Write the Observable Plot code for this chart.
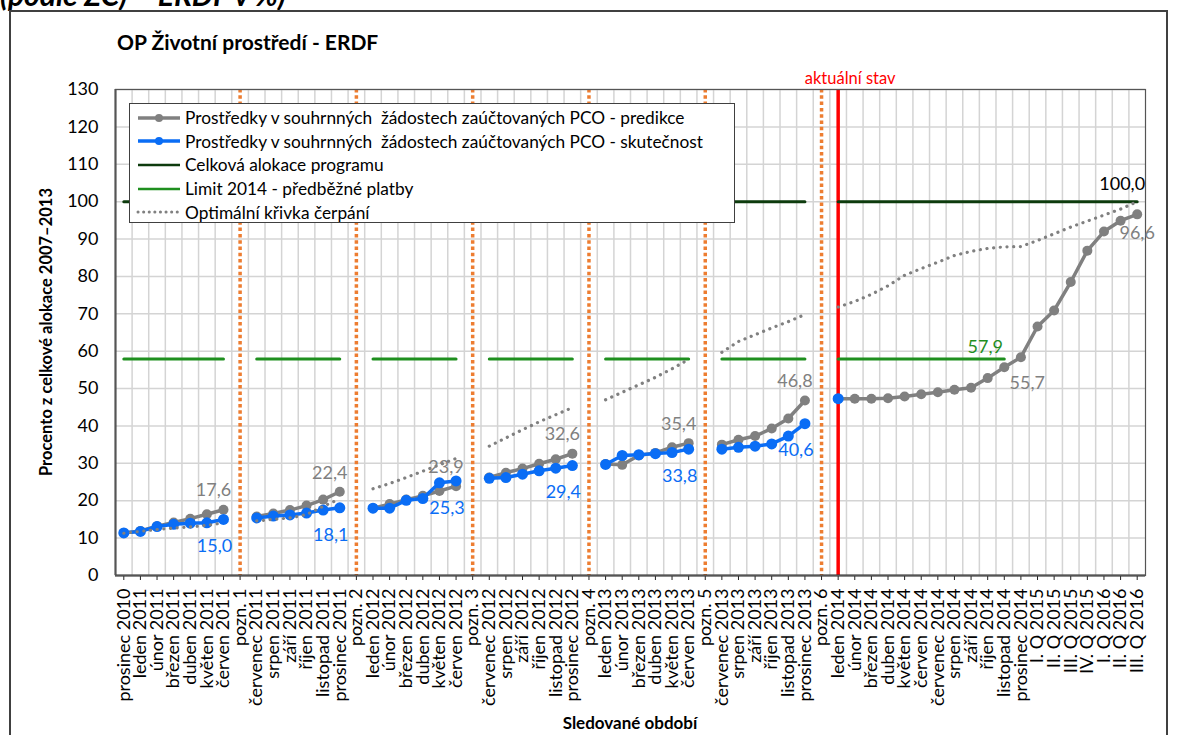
<!DOCTYPE html>
<html><head><meta charset="utf-8">
<script src="https://cdn.jsdelivr.net/npm/d3@7"></script>
<script src="https://cdn.jsdelivr.net/npm/@observablehq/plot@0.6"></script>
<style>
html,body{margin:0;padding:0;background:#fff;overflow:hidden;}
body{width:1179px;height:735px;position:relative;font-family:Lato,"Open Sans",sans-serif;}
#wrap{position:absolute;left:0;top:0;width:1179px;height:735px;}
#chart{position:absolute;left:0;top:0;}
.abs{position:absolute;white-space:nowrap;}
#border{left:9px;top:10px;width:1159px;height:780px;border:2px solid #404040;box-sizing:border-box;}
#cut{left:0px;top:-24px;font-weight:bold;font-style:italic;font-size:30px;}
#title{left:117px;top:29px;font-weight:bold;font-size:21px;}
#ytitle{left:46px;top:332px;font-weight:bold;font-size:16.5px;transform:translate(-50%,-50%) rotate(-90deg);}
#xtitle{left:630px;top:722px;font-weight:bold;font-size:17px;transform:translate(-50%,-50%);}
#legend{left:129px;top:103px;width:606px;height:120px;border:1.5px solid #404040;background:#fff;box-sizing:border-box;padding:2px 0 0 6px;}
.row{height:23.6px;display:flex;align-items:center;font-size:17.3px;}
.row svg{margin-right:3px;}
</style></head>
<body>
<div id="wrap">
  <div id="cut" class="abs">(podle ZC) – ERDF v %)</div>
  <div id="border" class="abs"></div>
  <div id="title" class="abs">OP Životní prostředí - ERDF</div>
  <div id="chart"></div>
  <div id="ytitle" class="abs">Procento z celkové alokace 2007–2013</div>
  <div id="xtitle" class="abs">Sledované období</div>
  <div id="legend" class="abs"></div>
</div>
<script>
// ---------- data ----------
const categories = [
  "prosinec 2010","leden 2011","únor 2011","březen 2011","duben 2011","květen 2011","červen 2011","pozn. 1",
  "červenec 2011","srpen 2011","září 2011","říjen 2011","listopad 2011","prosinec 2011","pozn. 2",
  "leden 2012","únor 2012","březen 2012","duben 2012","květen 2012","červen 2012","pozn. 3",
  "červenec 2012","srpen 2012","září 2012","říjen 2012","listopad 2012","prosinec 2012","pozn. 4",
  "leden 2013","únor 2013","březen 2013","duben 2013","květen 2013","červen 2013","pozn. 5",
  "červenec 2013","srpen 2013","září 2013","říjen 2013","listopad 2013","prosinec 2013","pozn. 6",
  "leden 2014","únor 2014","březen 2014","duben 2014","květen 2014","červen 2014","červenec 2014",
  "srpen 2014","září 2014","říjen 2014","listopad 2014","prosinec 2014",
  "I. Q 2015","II. Q 2015","III. Q 2015","IV. Q 2015","I. Q 2016","II. Q 2016","III. Q 2016"
];
const predikce = [
  11.4, 11.9, 13.2, 14.2, 15.2, 16.4, 17.6, null,
  15.8, 16.6, 17.5, 18.7, 20.3, 22.4, null,
  18.0, 19.1, 20.3, 21.3, 22.6, 23.9, null,
  26.2, 27.5, 28.6, 29.9, 31.1, 32.6, null,
  29.8, 29.6, 32.1, 32.8, 34.3, 35.4, null,
  35.0, 36.3, 37.3, 39.3, 42.0, 46.8, null,
  47.3, 47.3, 47.3, 47.4, 47.9, 48.5, 49.0, 49.7, 50.2, 52.8, 55.7, 58.4,
  66.6, 70.9, 78.5, 86.9, 92.0, 94.9, 96.6
];
const skutecnost = [
  11.4, 11.8, 13.1, 13.7, 14.0, 14.1, 15.0, null,
  15.4, 15.9, 16.2, 16.7, 17.5, 18.1, null,
  18.0, 18.0, 20.1, 20.6, 24.8, 25.3, null,
  26.0, 26.2, 27.1, 28.0, 28.7, 29.4, null,
  29.7, 32.1, 32.3, 32.6, 32.9, 33.8, null,
  33.8, 34.3, 34.6, 35.2, 37.3, 40.6, null,
  47.3, null, null, null, null, null, null, null, null, null, null, null,
  null, null, null, null, null, null, null
];
const alokace = [
  100, 100, 100, 100, 100, 100, 100, null,
  100, 100, 100, 100, 100, 100, null,
  100, 100, 100, 100, 100, 100, null,
  100, 100, 100, 100, 100, 100, null,
  100, 100, 100, 100, 100, 100, null,
  100, 100, 100, 100, 100, 100, null,
  100, 100, 100, 100, 100, 100, 100, 100, 100, 100, 100, 100,
  100, 100, 100, 100, 100, 100, 100
];
const limit2014 = [
  57.9, 57.9, 57.9, 57.9, 57.9, 57.9, 57.9, null,
  57.9, 57.9, 57.9, 57.9, 57.9, 57.9, null,
  57.9, 57.9, 57.9, 57.9, 57.9, 57.9, null,
  57.9, 57.9, 57.9, 57.9, 57.9, 57.9, null,
  57.9, 57.9, 57.9, 57.9, 57.9, 57.9, null,
  57.9, 57.9, 57.9, 57.9, 57.9, 57.9, null,
  57.9, 57.9, 57.9, 57.9, 57.9, 57.9, 57.9, 57.9, 57.9, 57.9, 57.9, null,
  null, null, null, null, null, null, null
];
const optimalni = [
  11.3, 11.8, 12.3, 12.7, 13.0, 13.4, 14.1, null,
  14.6, 15.0, 15.4, 16.3, 18.5, 20.5, null,
  23.2, 24.6, 26.2, 27.9, 29.6, 31.3, null,
  34.6, 36.8, 39.0, 41.1, 43.0, 44.9, null,
  47.0, 49.0, 51.0, 53.0, 55.3, 57.8, null,
  59.7, 62.6, 64.4, 66.2, 67.9, 69.8, null,
  71.8, 73.3, 75.2, 77.5, 80.3, 82.1, 83.8, 85.6, 86.7, 87.5, 87.9, 88.0,
  89.6, 91.4, 93.2, 94.8, 96.4, 98.0, 100.0
];
const yTicks = [0, 10, 20, 30, 40, 50, 60, 70, 80, 90, 100, 110, 120, 130];
const currentPeriod = "leden 2014";
// labelled points
const predikceAbove = ["červen 2011","prosinec 2011","červen 2012","prosinec 2012","červen 2013","prosinec 2013"];
const skutecnostBelow = ["červen 2011","prosinec 2011","červen 2012","prosinec 2012","červen 2013","prosinec 2013"];
const predikceBelowRight = ["listopad 2014"];
const predikceBelow = ["III. Q 2016"];
const limitLabel = ["listopad 2014"];
const alokaceLabel = ["III. Q 2016"];

const seriesNames = [
  "Prostředky v souhrnných  žádostech zaúčtovaných PCO - predikce",
  "Prostředky v souhrnných  žádostech zaúčtovaných PCO - skutečnost",
  "Celková alokace programu",
  "Limit 2014 - předběžné platby",
  "Optimální křivka čerpání"
];

// ---------- styles ----------
const C = {gray:"#808080", blue:"#0a6df5", dark:"#0d3b0d", green:"#1f8f1f", orange:"#ED7D31", red:"#ff0000", grid:"#d4d4d4"};
const n = categories.length;
const idx = d3.range(n);
const pos = c => categories.indexOf(c);
const pozn = idx.filter(i => categories[i].startsWith("pozn"));
const fmt = v => v.toFixed(1).replace(".", ",");
const valid = arr => idx.filter(i => arr[i] != null);

const plot = Plot.plot({
  width: 1179, height: 735,
  marginLeft: 115, marginRight: 34, marginTop: 89, marginBottom: 160,
  style: {fontFamily: "Lato, 'Open Sans', sans-serif", fontSize: "18px", color: "#000", background: "transparent", overflow: "visible"},
  x: {domain: [-0.5, n - 0.5]},
  y: {domain: [0, 130]},
  marks: [
    Plot.ruleY(yTicks, {stroke: C.grid, strokeWidth: 1.5}),
    Plot.ruleX(idx.slice(1), {x: i => i - 0.5, stroke: C.grid, strokeWidth: 1.5}),
    Plot.axisY({ticks: yTicks, tickSize: 0, tickPadding: 17, fontSize: 18, label: null}),
    Plot.axisX({ticks: idx, tickFormat: i => categories[i], tickRotate: -90, tickSize: 5, tickPadding: 8, fontSize: 18, label: null, stroke: "#222"}),
    Plot.ruleX(pozn, {stroke: C.orange, strokeWidth: 3.5, strokeDasharray: "3.5,2.8"}),
    Plot.ruleX([pos(currentPeriod)], {stroke: C.red, strokeWidth: 3.5}),
    Plot.text([pos(currentPeriod)], {x: d => d, frameAnchor: "top", dy: -17, dx: 12, text: () => "aktuální stav", fill: C.red, fontSize: 16.5}),
    Plot.line(idx, {x: i => i, y: i => predikce[i], stroke: C.gray, strokeWidth: 3.5}),
    Plot.dot(valid(predikce), {x: i => i, y: i => predikce[i], r: 5, fill: C.gray}),
    Plot.line(idx, {x: i => i, y: i => skutecnost[i], stroke: C.blue, strokeWidth: 3.5}),
    Plot.dot(valid(skutecnost), {x: i => i, y: i => skutecnost[i], r: 5.5, fill: C.blue}),
    Plot.line(idx, {x: i => i, y: i => alokace[i], stroke: C.dark, strokeWidth: 3}),
    Plot.line(idx, {x: i => i, y: i => limit2014[i], stroke: C.green, strokeWidth: 3}),
    Plot.line(idx, {x: i => i, y: i => optimalni[i], stroke: C.gray, strokeWidth: 3.2, strokeDasharray: "0.1,6.6", strokeLinecap: "round"}),
    Plot.ruleY([0], {stroke: "#333", strokeWidth: 2}),
    Plot.ruleX([-0.5], {stroke: "#444", strokeWidth: 2}),
    Plot.frame({stroke: "#555", strokeWidth: 1.2}),
    // labels
    Plot.text(predikceAbove.map(pos), {x: d => d, y: d => predikce[d], text: d => fmt(predikce[d]), fill: C.gray, dx: -10, dy: -19, fontSize: 18}),
    Plot.text(skutecnostBelow.map(pos), {x: d => d, y: d => skutecnost[d], text: d => fmt(skutecnost[d]), fill: C.blue, dx: -9, dy: 27, fontSize: 18}),
    Plot.text(predikceBelowRight.map(pos), {x: d => d, y: d => predikce[d], text: d => fmt(predikce[d]), fill: C.gray, dx: 23, dy: 16, fontSize: 18}),
    Plot.text(predikceBelow.map(pos), {x: d => d, y: d => predikce[d], text: d => fmt(predikce[d]), fill: C.gray, dx: 0, dy: 19, fontSize: 18}),
    Plot.text(limitLabel.map(pos), {x: d => d, y: d => limit2014[d], text: d => fmt(limit2014[d]), fill: C.green, dx: -19, dy: -12, fontSize: 18}),
    Plot.text(alokaceLabel.map(pos), {x: d => d, y: d => alokace[d], text: d => fmt(alokace[d]), fill: "#000", dx: -15, dy: -17, fontSize: 18})
  ]
});
document.getElementById("chart").appendChild(plot);

// ---------- legend ----------
const legendStyles = [
  {stroke: C.gray, dot: true, dash: null, w: 3.5},
  {stroke: C.blue, dot: true, dash: null, w: 3.5},
  {stroke: C.dark, dot: false, dash: null, w: 2.5},
  {stroke: C.green, dot: false, dash: null, w: 2.5},
  {stroke: C.gray, dot: false, dash: "0.1,5.5", w: 3}
];
const leg = document.getElementById("legend");
seriesNames.forEach((name, k) => {
  const s = legendStyles[k];
  const row = document.createElement("div");
  row.className = "row";
  const svg = d3.create("svg").attr("width", 46).attr("height", 14);
  svg.append("line").attr("x1", 2).attr("x2", 44).attr("y1", 7).attr("y2", 7)
    .attr("stroke", s.stroke).attr("stroke-width", s.w)
    .attr("stroke-dasharray", s.dash).attr("stroke-linecap", s.dash ? "round" : "butt");
  if (s.dot) svg.append("circle").attr("cx", 23).attr("cy", 7).attr("r", 4).attr("fill", s.stroke);
  row.appendChild(svg.node());
  const t = document.createElement("span");
  t.textContent = name;
  t.style.whiteSpace = "pre";
  row.appendChild(t);
  leg.appendChild(row);
});
</script>
</body></html>
